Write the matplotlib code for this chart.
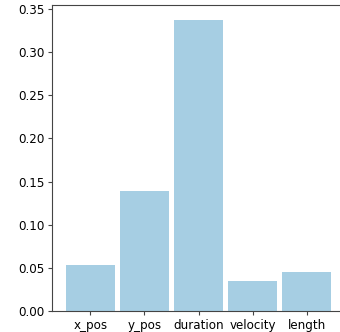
import matplotlib
matplotlib.use("Agg")
import matplotlib.pyplot as plt

categories = ["x_pos", "y_pos", "duration", "velocity", "length"]
values = [0.0533, 0.139, 0.3375, 0.0348, 0.0452]

fig = plt.figure(figsize=(3.4, 3.32), dpi=100)
ax = fig.add_axes([52/340, 1-311/332, (345-52)/340, 306/332])
ax.bar(categories, values, width=0.9, color="#a6cee3")
ax.spines["right"].set_visible(False)
for s in ax.spines.values():
    s.set_linewidth(0.8)
    s.set_color("#444444")
ax.set_xlim(-0.71, 4.71)
ax.set_ylim(0, 0.3546)
ax.set_yticks([0, 0.05, 0.10, 0.15, 0.20, 0.25, 0.30, 0.35])
ax.tick_params(labelsize=8.6, length=3, width=0.8, pad=2.5, color="#444444")
fig.savefig("out.png", dpi=100)
